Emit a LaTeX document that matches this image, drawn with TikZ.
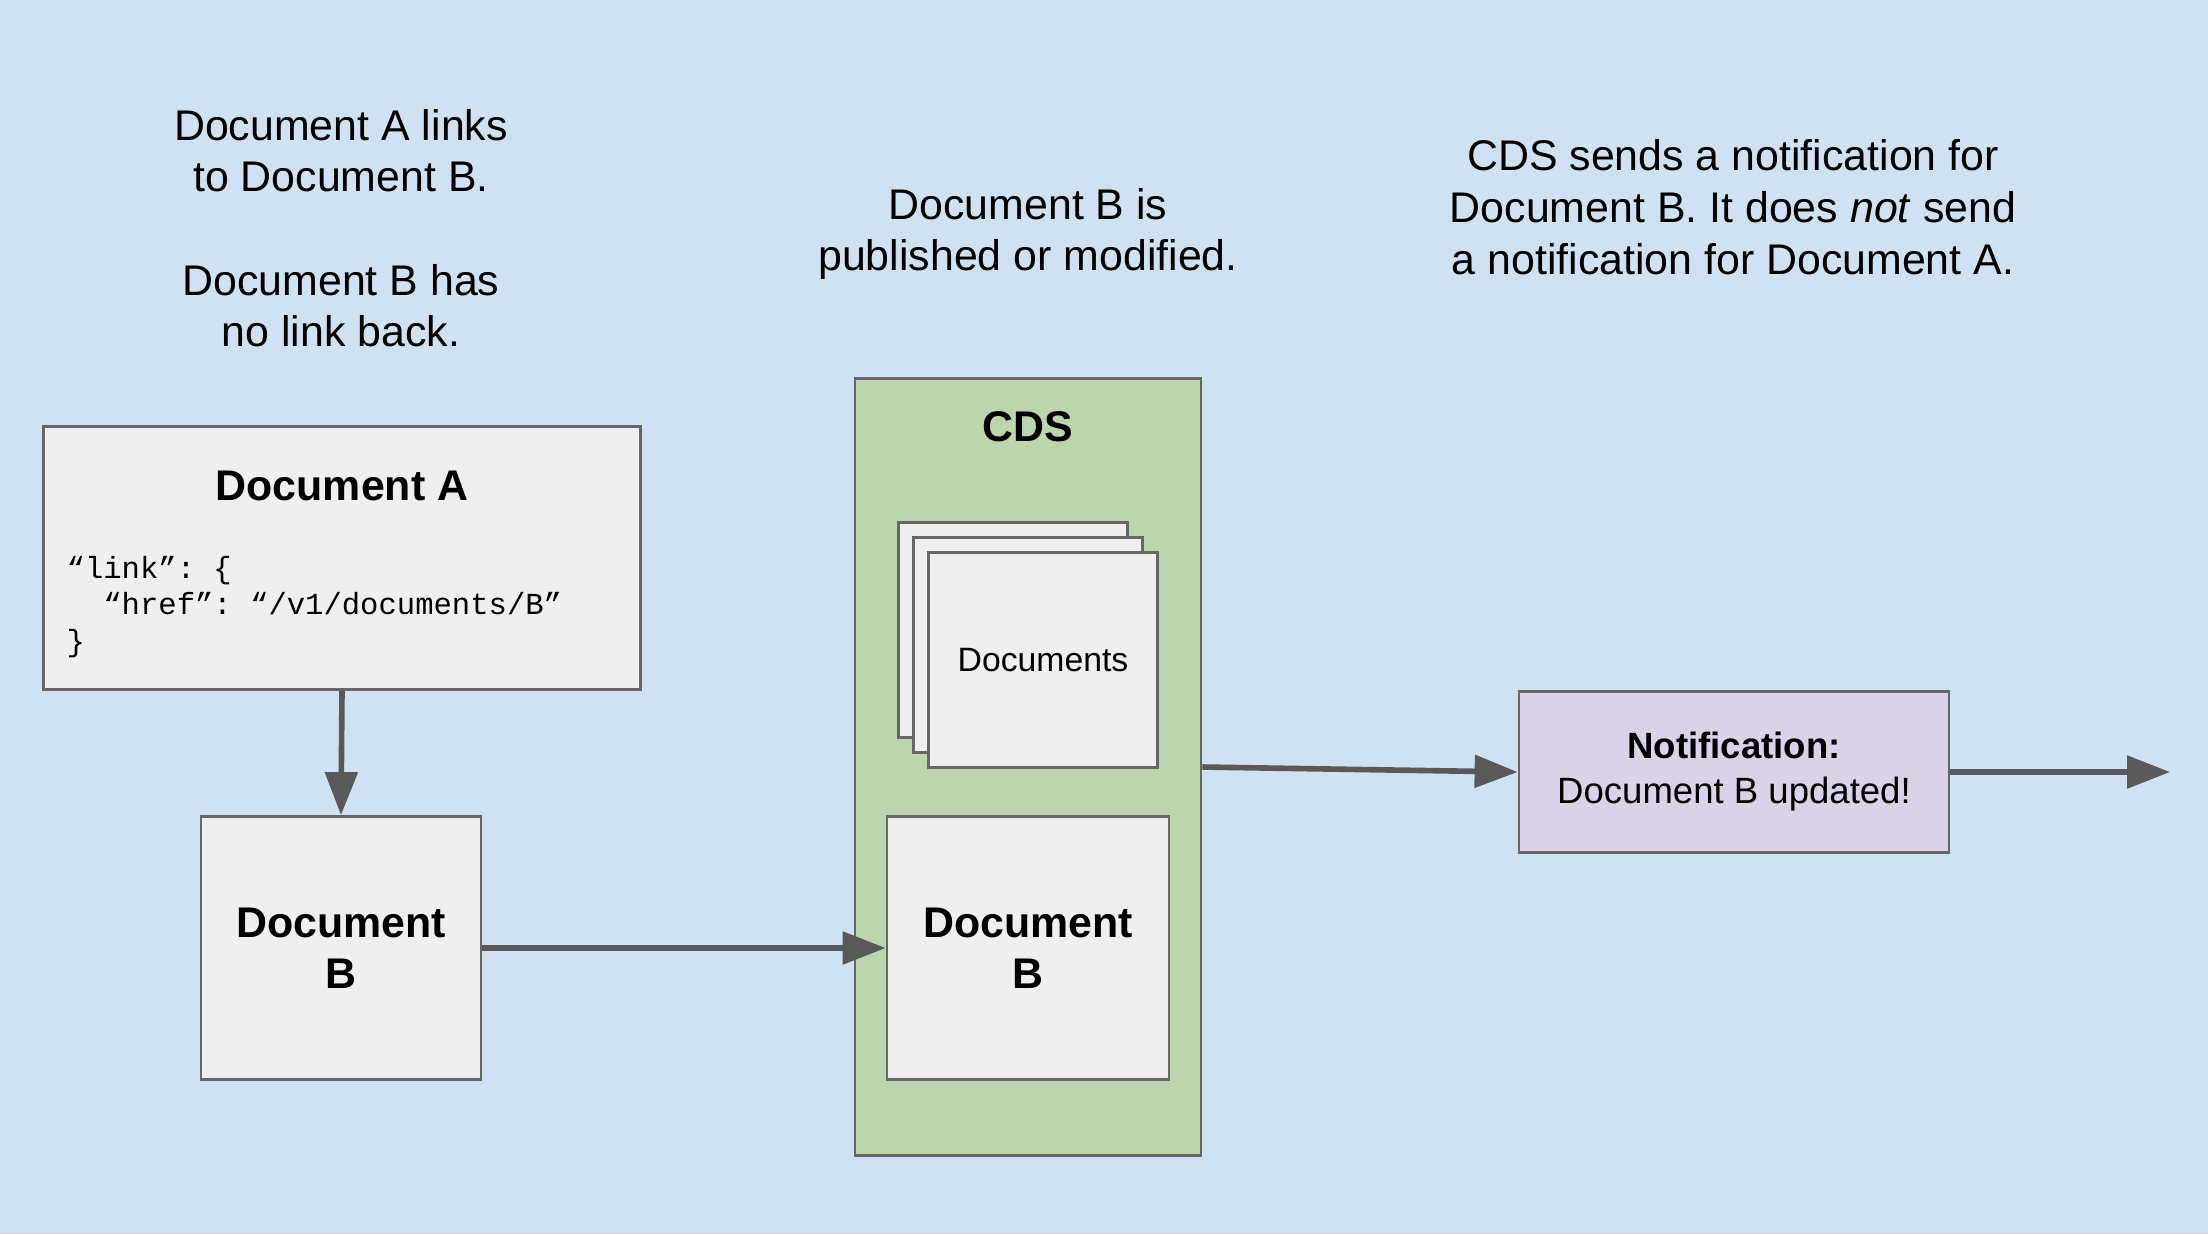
\documentclass[tikz,border=0pt]{standalone}
\usepackage{fontspec}
\setmainfont{Liberation Sans}
\setmonofont{Liberation Mono}
\usetikzlibrary{arrows.meta, positioning}
\definecolor{bgblue}{RGB}{207, 226, 243}
\definecolor{docgray}{RGB}{239, 239, 239}
\definecolor{edgegray}{RGB}{102, 102, 102}
\definecolor{arrowgray}{RGB}{89, 89, 89}
\definecolor{cdsgreen}{RGB}{187, 214, 172}
\definecolor{notifpurple}{RGB}{217, 210, 233}

\begin{document}
\begin{tikzpicture}[
  docbox/.style={draw=edgegray, fill=docgray, line width=0.8pt, inner sep=0pt, align=center},
  flow/.style={draw=arrowgray, line width=1.6pt, -{Triangle[length=0.43cm, width=0.32cm]}},
  caption/.style={align=center, font=\fontsize{12.2}{14.7}\selectfont},
  boldtitle/.style={align=center, font=\bfseries\fontsize{12.2}{14.4}\selectfont}
]
  % Background
  \fill[bgblue] (0,0) rectangle (22.08,-12.34);
  \useasboundingbox (0,0) rectangle (22.08,-12.34);

  % Captions
  \node[caption] (capA) at (3.41,-2.28) {Document A links\\to Document B.\\[14.7pt]Document B has\\no link back.};
  \node[caption] (capB) at (10.28,-2.34) {Document B is\\published or modified.};
  \node[caption] (capC) at (17.33,-2.07) {CDS sends a notification for\\Document B. It does \textit{not} send\\a notification for Document A.};

  % Document A
  \node[docbox, minimum width=5.97cm, minimum height=2.63cm] (docA) at (3.42,-5.58) {};
  \node[boldtitle] (docAtitle) at (3.42,-4.86) {Document A};
  \node[font=\fontsize{8.7}{10.4}\selectfont\ttfamily, align=left, anchor=west, inner sep=0pt] (docAcode) at (0.66,-6.07)
    {“link”: \{\\\hphantom{xx}“href”: “/v1/documents/B”\\\}};

  % Document B
  \node[docbox, font=\bfseries\fontsize{12.2}{14.4}\selectfont, minimum width=2.80cm, minimum height=2.63cm] (docB) at (3.41,-9.48) {Document\\B};

  % CDS
  \node[draw=edgegray, fill=cdsgreen, line width=0.8pt, minimum width=3.46cm, minimum height=7.77cm] (cds) at (10.28,-7.67) {};
  \node[boldtitle] (cdslabel) at (10.28,-4.27) {CDS};
  \node[docbox, minimum width=2.29cm, minimum height=2.15cm] (stackback) at (10.13,-6.30) {};
  \node[docbox, minimum width=2.29cm, minimum height=2.15cm] (stackmid) at (10.28,-6.45) {};
  \node[docbox, font=\fontsize{9.6}{11.5}\selectfont, minimum width=2.29cm, minimum height=2.15cm] (stack) at (10.43,-6.60) {Documents};
  \node[docbox, font=\bfseries\fontsize{12.2}{14.4}\selectfont, minimum width=2.82cm, minimum height=2.63cm] (cdsdocB) at (10.28,-9.48) {Document\\B};

  % Notification
  \node[draw=edgegray, fill=notifpurple, line width=0.8pt, minimum width=4.30cm, minimum height=1.61cm, align=center,
    font=\fontsize{10.4}{12.8}\selectfont] (notif) at (17.34,-7.72) {\textbf{Notification:}\\Document B updated!};
  \coordinate (out) at (21.70,-7.72);

  % Connectors
  \draw[flow] (docA.south) -- (docB.north);
  \draw[flow] (docB.east) -- (cdsdocB.west);
  \draw[flow] (cds.east) -- (notif.west);
  \draw[flow] (notif.east) -- (out);
\end{tikzpicture}
\end{document}
